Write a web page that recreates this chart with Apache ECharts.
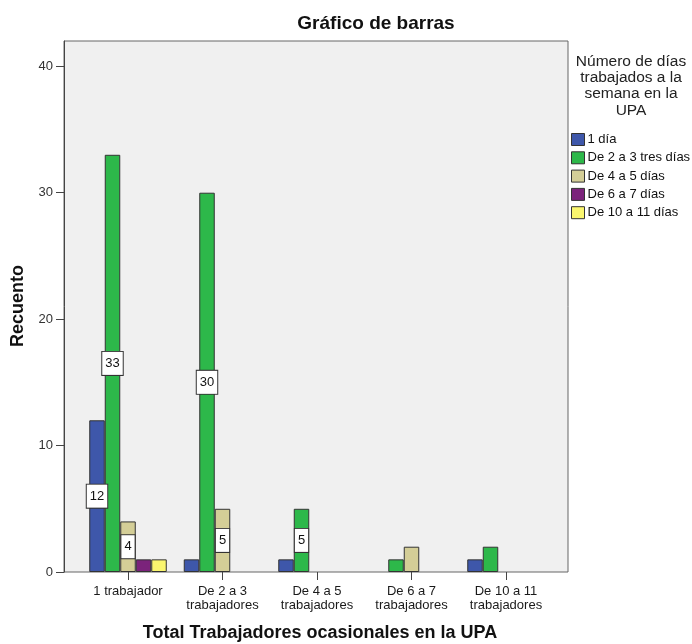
<!DOCTYPE html>
<html>
<head>
<meta charset="utf-8">
<script src="https://cdn.jsdelivr.net/npm/echarts@6/dist/echarts.min.js"></script>
<style>
  html, body { margin: 0; padding: 0; background: #ffffff; }
  #chart { width: 692px; height: 644px; }
</style>
</head>
<body>
<div id="chart"></div>
<script>
// Categories: occasional workers per farm unit (UPA)
const categories = [
  '1 trabajador',
  'De 2 a 3\ntrabajadores',
  'De 4 a 5\ntrabajadores',
  'De 6 a 7\ntrabajadores',
  'De 10 a 11\ntrabajadores'
];

// Legend groups: days worked per week
const seriesNames = ['1 día', 'De 2 a 3 tres días', 'De 4 a 5 días', 'De 6 a 7 días', 'De 10 a 11 días'];

// Counts per category (null = no cases)
const dias1 = [12, 1, 1, null, 1];
const dias2a3 = [33, 30, 5, 1, 2];
const dias4a5 = [4, 5, null, 2, null];
const dias6a7 = [1, null, null, null, null];
const dias10a11 = [1, null, null, null, null];

const yTicks = [0, 10, 20, 30, 40];

const seriesValues = [dias1, dias2a3, dias4a5, dias6a7, dias10a11];
const colors = ['#3E57AA', '#2DB84A', '#D4CE97', '#7B237B', '#FAF66E'];
const FONT = '"Liberation Sans", Arial, sans-serif';

const chart = echarts.init(document.getElementById('chart'), null, { renderer: 'canvas' });

const series = seriesNames.map((name, i) => ({
  name: name,
  type: 'bar',
  xAxisIndex: 1,
  yAxisIndex: 1,
  barWidth: 15.5,
  barGap: '0%',
  itemStyle: { color: colors[i], borderColor: '#333333', borderWidth: 1 },
  label: {
    position: 'inside',
    backgroundColor: '#ffffff',
    borderColor: '#333333',
    borderWidth: 1,
    padding: [5, 3],
    fontSize: 13,
    fontFamily: FONT,
    color: '#111111'
  },
  emphasis: { disabled: true },
  data: seriesValues[i].map(v => v == null ? '-' : { value: v, label: { show: v >= 4 } })
}));

const option = {
  animation: false,
  backgroundColor: '#ffffff',
  textStyle: { fontFamily: FONT },
  grid: [
    { left: 64, top: 41, width: 504, height: 531, show: true,
      backgroundColor: '#F0F0F0', borderColor: '#666666', borderWidth: 1 },
    { left: 80.75, top: 41, width: 472.5, height: 531 }
  ],
  xAxis: [
    { gridIndex: 0, type: 'value', min: 0, max: 1, show: false },
    {
      gridIndex: 1, type: 'category', data: categories,
      axisLine: { show: false },
      axisTick: { show: true, alignWithLabel: true, length: 8, lineStyle: { color: '#444444' } },
      axisLabel: { interval: 0, fontSize: 13, lineHeight: 14, margin: 12, color: '#1a1a1a' },
      splitLine: { show: false }
    }
  ],
  yAxis: [
    {
      gridIndex: 0, type: 'value', min: 0, max: 42,
      axisLine: { show: true, lineStyle: { color: '#444444' } },
      axisTick: { show: true, length: 8, customValues: yTicks, lineStyle: { color: '#444444' } },
      axisLabel: { customValues: yTicks, fontSize: 13, margin: 11, color: '#333333' },
      splitLine: { show: false }
    },
    { gridIndex: 1, type: 'value', min: 0, max: 42, show: false }
  ],
  legend: {
    orient: 'vertical',
    left: 571,
    top: 133,
    padding: 0,
    itemWidth: 13,
    itemHeight: 12,
    itemGap: 5.3,
    icon: 'rect',
    itemStyle: { borderColor: '#333333', borderWidth: 1 },
    textStyle: { fontSize: 13, color: '#111111', padding: [0, 0, 0, -2] },
    selectedMode: false,
    data: seriesNames
  },
  graphic: [
    { type: 'text', x: 376, y: 24, silent: true,
      style: { text: 'Gráfico de barras', font: 'bold 19px ' + FONT, fill: '#111111',
               align: 'center', verticalAlign: 'middle' } },
    { type: 'text', x: 320, y: 633, silent: true,
      style: { text: 'Total Trabajadores ocasionales en la UPA', font: 'bold 18px ' + FONT, fill: '#111111',
               align: 'center', verticalAlign: 'middle' } },
    { type: 'text', x: 18, y: 306, rotation: Math.PI / 2, silent: true,
      style: { text: 'Recuento', font: 'bold 18px ' + FONT, fill: '#111111',
               align: 'center', verticalAlign: 'middle' } },
    { type: 'text', x: 631, y: 86, silent: true,
      style: { text: 'Número de días\ntrabajados a la\nsemana en la\nUPA', font: '15.5px ' + FONT,
               lineHeight: 16.3, fill: '#222222', align: 'center', verticalAlign: 'middle' } }
  ],
  series: series
};

chart.setOption(option);
</script>
</body>
</html>
